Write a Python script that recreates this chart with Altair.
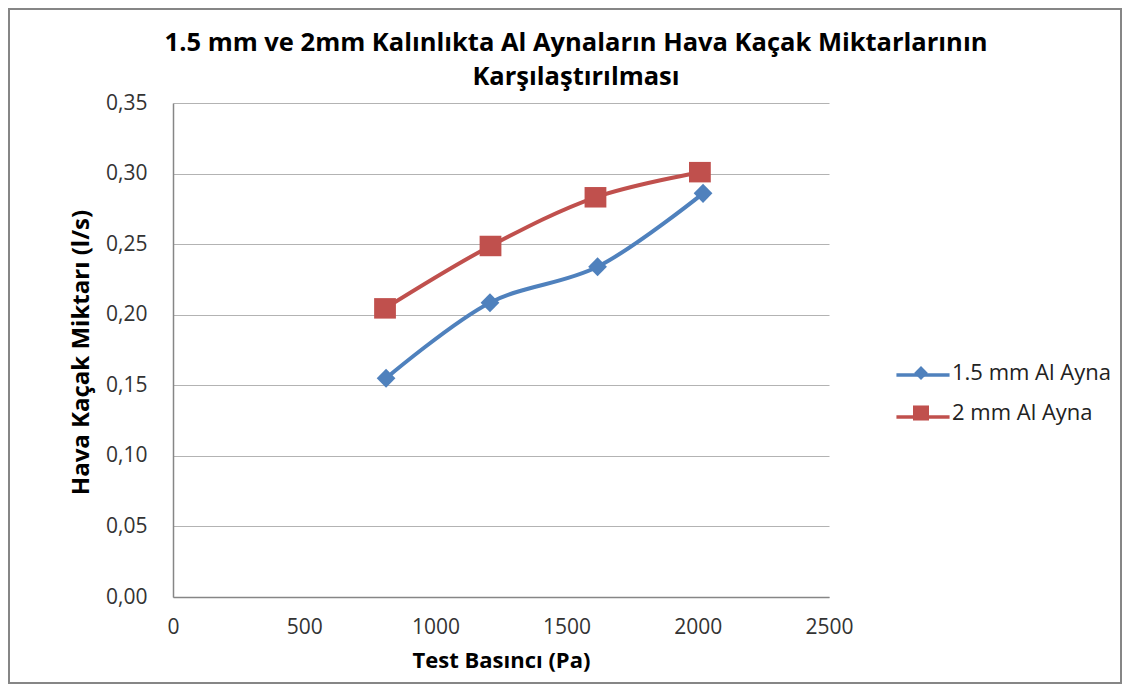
import altair as alt
import pandas as pd

# ---- data ----
series_names = ["1.5 mm Al Ayna", "2 mm Al Ayna"]
pressure_15 = [812, 1208, 1618, 2020]
flow_15 = [0.155, 0.2085, 0.234, 0.286]
pressure_2 = [808, 1210, 1610, 2008]
flow_2 = [0.2045, 0.2487, 0.2832, 0.301]
x_ticks = [0, 500, 1000, 1500, 2000, 2500]
y_ticks = [0.0, 0.05, 0.10, 0.15, 0.20, 0.25, 0.30, 0.35]
series_colors = ["#4F81BD", "#C0504D"]

df = pd.DataFrame({
    "pressure": pressure_15 + pressure_2,
    "flow": flow_15 + flow_2,
    "series": [series_names[0]] * len(pressure_15) + [series_names[1]] * len(pressure_2),
})

W, H = 656, 494
PAD_L, PAD_T, PAD_R, PAD_B = 165, 95, 293, 87
FONT = "Open Sans"
SYM = 1024          # legend symbol size (unit paths scaled by 16 px)
MARKER_SIZE = 1900  # plot marker size (markers are larger in the plot than in the legend)

x = alt.X(
    "pressure:Q",
    scale=alt.Scale(domain=[0, 2500], nice=False, zero=False),
    axis=alt.Axis(values=x_ticks, format="d", grid=False, ticks=False, labelPadding=19,
                  labelFlush=False, title="Test Basıncı (Pa)", titleY=53),
)
y = alt.Y(
    "flow:Q",
    scale=alt.Scale(domain=[0, 0.35], nice=False),
    axis=alt.Axis(values=y_ticks, ticks=False, labelPadding=26,
                  labelExpr="replace(format(datum.value, '.2f'), '.', ',')",
                  title="Hava Kaçak Miktarı (l/s)", titleX=-80, titleY=249),
)

# marker shapes in unit coordinates
diamond_path = "M0,-0.44L0.43,0L0,0.44L-0.43,0Z"
square_path = "M-0.5,-0.47H0.5V0.47H-0.5Z"
line_path = "M-1.66,0H1.66"

common_leg = dict(
    title=None, orient="none", legendX=732, legendY=254,
    labelFontSize=22, labelFont=FONT, labelColor="#222222", labelLimit=300,
    symbolSize=SYM, labelOffset=15, rowPadding=13,
)
line_leg = alt.Legend(symbolType=line_path, symbolStrokeWidth=3.5, labelOpacity=0, **common_leg)
marker_leg = alt.Legend(symbolStrokeWidth=0, **common_leg)

lines = alt.Chart(df).mark_line(interpolate="catmull-rom", strokeWidth=4).encode(
    x=x, y=y,
    stroke=alt.Stroke("series:N", scale=alt.Scale(range=series_colors), legend=line_leg),
)
points = alt.Chart(df).mark_point(filled=True, size=MARKER_SIZE, opacity=1, strokeWidth=0).encode(
    x=x, y=y,
    color=alt.Color("series:N", scale=alt.Scale(domain=series_names, range=series_colors), legend=marker_leg),
    shape=alt.Shape("series:N", scale=alt.Scale(domain=series_names, range=[diamond_path, square_path]), legend=None),
)

border = alt.Chart(pd.DataFrame({"k": [0]})).mark_rect(
    fillOpacity=0, stroke="#868686", strokeWidth=2
).encode(
    x=alt.value(-PAD_L + 1), x2=alt.value(W + PAD_R - 1),
    y=alt.value(-PAD_T + 1), y2=alt.value(H + PAD_B - 1),
)

chart = alt.layer(border, lines, points).properties(
    width=W, height=H, background="white",
    padding={"left": PAD_L, "top": PAD_T, "right": PAD_R, "bottom": PAD_B},
    autosize=alt.AutoSizeParams(type="none"),
    title=alt.TitleParams(
        text=["1.5 mm ve 2mm Kalınlıkta Al Aynaların Hava Kaçak Miktarlarının", "Karşılaştırılması"],
        anchor="middle", dx=75, offset=-82, fontSize=25.5, font=FONT, fontWeight="bold",
        color="#000000", lineHeight=34,
    ),
).configure_view(stroke=None).configure_axis(
    labelFont=FONT, titleFont=FONT, labelFontSize=21, labelColor="#333333",
    domainColor="#868686", domainWidth=1.5, gridColor="#b3b3b3", gridWidth=1,
    titleFontWeight="bold", titleColor="#000000",
).configure_axisX(titleFontSize=22).configure_axisY(titleFontSize=24)

chart.save("out.html", embed_options={"renderer": "svg", "actions": False})
